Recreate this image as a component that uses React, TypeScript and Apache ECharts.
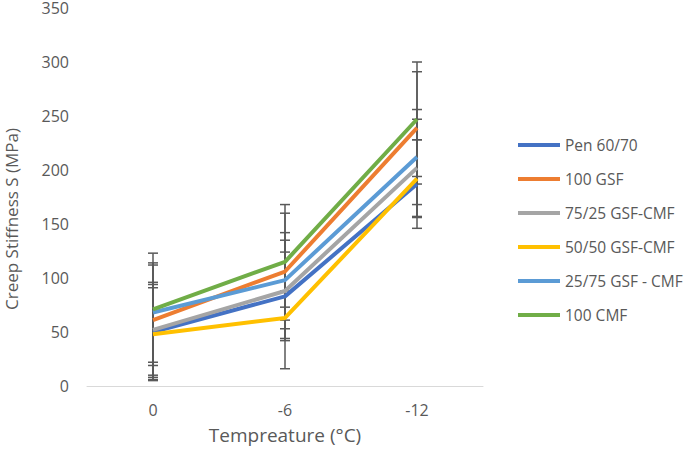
import React, { useEffect, useRef } from "react";
import * as echarts from "echarts";

const temperatures = ["0", "-6", "-12"];

const seriesNames = [
  "Pen 60/70",
  "100 GSF",
  "75/25 GSF-CMF",
  "50/50 GSF-CMF",
  "25/75 GSF - CMF",
  "100 CMF",
];

const colors = ["#4472C4", "#ED7D31", "#A5A5A5", "#FFC000", "#5B9BD5", "#70AD47"];

// creep stiffness values (MPa) at 0, -6, -12 °C
const pen6070 = [50, 83, 187];
const gsf100 = [61, 106, 239];
const gsfCmf7525 = [52, 88, 202];
const gsfCmf5050 = [48, 63, 192];
const gsfCmf2575 = [68, 98, 212];
const cmf100 = [71, 115, 247];

// error bar half-widths
const pen6070Err = [44, 41, 41];
const gsf100Err = [51, 62, 52];
const gsfCmf7525Err = [44, 72, 45];
const gsfCmf5050Err = [43, 10, 36];
const gsfCmf2575Err = [46, 37, 44];
const cmf100Err = [52, 27, 53];

const values = [pen6070, gsf100, gsfCmf7525, gsfCmf5050, gsfCmf2575, cmf100];
const errors = [pen6070Err, gsf100Err, gsfCmf7525Err, gsfCmf5050Err, gsfCmf2575Err, cmf100Err];

const font = "'Open Sans', 'Noto Sans', sans-serif";

export default function App() {
  const chartRef = useRef<HTMLDivElement>(null);

  useEffect(() => {
    document.body.style.margin = "0";
    if (!chartRef.current) return;
    const chart = echarts.init(chartRef.current, null, { renderer: "svg" });

    const errorData: number[][] = [];
    values.forEach((vals, s) => {
      vals.forEach((v, i) => {
        errorData.push([i, v - errors[s][i], v + errors[s][i]]);
      });
    });

    const lineSeries = seriesNames.map((name, s) => ({
      name,
      type: "line",
      data: values[s],
      showSymbol: false,
      symbol: "none",
      lineStyle: { width: 4, color: colors[s] },
      itemStyle: { color: colors[s] },
      z: 3,
    }));

    chart.setOption({
      animation: false,
      grid: { left: 87, right: 202, top: 8, bottom: 67 },
      xAxis: {
        type: "category",
        data: temperatures,
        boundaryGap: true,
        axisLine: { lineStyle: { color: "#d9d9d9", width: 1 } },
        axisTick: { show: false },
        axisLabel: { color: "#595959", fontSize: 16, fontFamily: font, margin: 16 },
        name: "Tempreature (°C)",
        nameLocation: "middle",
        nameGap: 39,
        nameTextStyle: { color: "#595959", fontSize: 19, fontFamily: font },
      },
      yAxis: {
        type: "value",
        min: 0,
        max: 350,
        interval: 50,
        axisLine: { show: false },
        axisTick: { show: false },
        splitLine: { show: false },
        axisLabel: { color: "#595959", fontSize: 16, lineHeight: 14, fontFamily: font, margin: 18 },
      },
      legend: {
        orient: "vertical",
        left: 513,
        top: 130,
        icon: "rect",
        itemWidth: 42,
        itemHeight: 4,
        itemGap: 14,
        data: seriesNames,
        textStyle: { color: "#595959", fontSize: 15.5, fontFamily: font, lineHeight: 20 },
      },
      graphic: [
        {
          type: "text",
          x: 11,
          y: 219,
          rotation: Math.PI / 2,
          style: {
            text: "Creep Stiffness S (MPa)",
            fill: "#595959",
            font: `17px ${font}`,
            lineHeight: 18,
            align: "center",
            verticalAlign: "middle",
          },
        },
      ],
      series: [
        {
          type: "custom",
          name: "error",
          z: 2,
          silent: true,
          renderItem: (params: any, api: any) => {
            const idx = api.value(0);
            const low = api.coord([idx, api.value(1)]);
            const high = api.coord([idx, api.value(2)]);
            const half = 5;
            const style = { stroke: "#595959", lineWidth: 1.5 };
            return {
              type: "group",
              children: [
                { type: "line", shape: { x1: low[0], y1: low[1], x2: high[0], y2: high[1] }, style },
                { type: "line", shape: { x1: low[0] - half, y1: low[1], x2: low[0] + half, y2: low[1] }, style },
                { type: "line", shape: { x1: high[0] - half, y1: high[1], x2: high[0] + half, y2: high[1] }, style },
              ],
            };
          },
          data: errorData,
        },
        ...lineSeries,
      ],
    });

    return () => {
      chart.dispose();
    };
  }, []);

  return <div ref={chartRef} style={{ width: 685, height: 453 }} />;
}
